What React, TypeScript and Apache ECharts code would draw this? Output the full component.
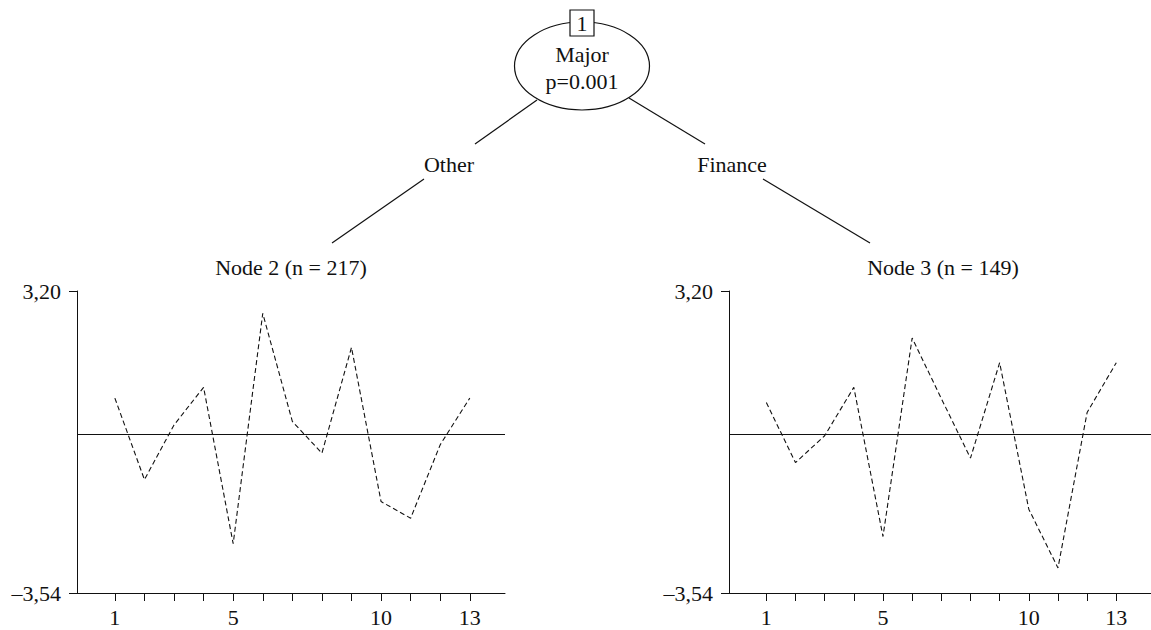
import React, { useEffect, useRef } from "react";
import * as echarts from "echarts";

const xValues = [1, 2, 3, 4, 5, 6, 7, 8, 9, 10, 11, 12, 13];
const node2Values = [0.81, -1.01, 0.21, 1.05, -2.44, 2.7, 0.29, -0.42, 1.94, -1.5, -1.87, -0.23, 0.81];
const node3Values = [0.71, -0.63, -0.03, 1.05, -2.28, 2.15, 0.8, -0.53, 1.6, -1.67, -2.98, 0.49, 1.6];
const xTickValues = [1, 2, 3, 4, 5, 6, 7, 8, 9, 10, 11, 12, 13];
const xLabelValues = [1, 5, 10, 13];
const yTickValues = [-3.54, 3.2];
const yTickLabels = ["\u20133,54", "3,20"];
const yMin = -3.54;
const yMax = 3.2;
const referenceValue = 0;
const rootTitle = "Major";
const rootPValue = "p=0.001";
const rootId = "1";
const branchLabels = ["Other", "Finance"];
const nodeTitles = ["Node 2 (n = 217)", "Node 3 (n = 149)"];

const FONT = '"Liberation Serif", "DejaVu Serif", serif';
const INK = "#111";
const FS = 22;

function textEl(text: string, x: number, y: number, size = FS) {
  return {
    type: "text",
    x,
    y,
    style: {
      text,
      fill: INK,
      fontSize: size,
      fontFamily: FONT,
      align: "center",
      verticalAlign: "middle",
      textAlign: "center",
      textVerticalAlign: "middle",
    },
    z: 10,
  };
}

function lineEl(x1: number, y1: number, x2: number, y2: number) {
  return {
    type: "line",
    shape: { x1, y1, x2, y2 },
    style: { stroke: INK, lineWidth: 1.2 },
    z: 5,
  };
}

export default function App() {
  const ref = useRef<HTMLDivElement>(null);

  useEffect(() => {
    if (!ref.current) return;
    const chart = echarts.init(ref.current, null, { renderer: "svg" });

    const makeX = (gridIndex: number) => ({
      type: "value",
      gridIndex,
      min: -0.28,
      max: 14.19,
      axisLine: { show: true, onZero: false, lineStyle: { color: INK, width: 1 } },
      axisTick: { show: true, length: 8, customValues: xTickValues, lineStyle: { color: INK } },
      axisLabel: {
        customValues: xLabelValues,
        margin: 13,
        color: INK,
        fontSize: FS,
        fontFamily: FONT,
      },
      splitLine: { show: false },
    });

    const makeY = (gridIndex: number) => ({
      type: "value",
      gridIndex,
      min: yMin,
      max: yMax,
      axisLine: { show: true, onZero: false, lineStyle: { color: INK, width: 1 } },
      axisTick: { show: true, length: 8, customValues: yTickValues, lineStyle: { color: INK } },
      axisLabel: {
        customValues: yTickValues,
        margin: 16,
        color: INK,
        fontSize: FS,
        fontFamily: FONT,
        formatter: (v: number) => {
          const i = yTickValues.findIndex((t) => Math.abs(t - v) < 1e-6);
          return i >= 0 ? yTickLabels[i] : "";
        },
      },
      splitLine: { show: false },
    });

    const makeSeries = (idx: number, values: number[]) => ({
      type: "line",
      xAxisIndex: idx,
      yAxisIndex: idx,
      data: xValues.map((x, i) => [x, values[i]]),
      symbol: "none",
      lineStyle: { color: INK, width: 1.1, type: [5, 3] },
      silent: true,
      markLine: {
        silent: true,
        symbol: "none",
        label: { show: false },
        lineStyle: { color: INK, width: 1, type: "solid" },
        data: [{ yAxis: referenceValue }],
      },
    });

    chart.setOption({
      animation: false,
      backgroundColor: "#fff",
      grid: [
        { left: 77, top: 291, width: 428, height: 302 },
        { left: 729, top: 291, width: 428, height: 302 },
      ],
      xAxis: [makeX(0), makeX(1)],
      yAxis: [makeY(0), makeY(1)],
      series: [makeSeries(0, node2Values), makeSeries(1, node3Values)],
      graphic: [
        lineEl(537, 100, 475, 144),
        lineEl(629, 98, 705, 144),
        lineEl(424, 179, 332, 243),
        lineEl(763, 179, 870, 243),
        {
          type: "ellipse",
          shape: { cx: 582, cy: 66, rx: 67.5, ry: 44 },
          style: { fill: "#fff", stroke: INK, lineWidth: 1.2 },
          z: 6,
        },
        {
          type: "rect",
          shape: { x: 570, y: 10, width: 24, height: 26 },
          style: { fill: "#fff", stroke: INK, lineWidth: 1.2 },
          z: 7,
        },
        textEl(rootId, 582, 23),
        textEl(rootTitle, 582, 54),
        textEl(rootPValue, 582, 81),
        textEl(branchLabels[0], 449, 164),
        textEl(branchLabels[1], 732, 164),
        textEl(nodeTitles[0], 291, 267),
        textEl(nodeTitles[1], 943, 267),
      ],
    });

    return () => chart.dispose();
  }, []);

  return (
    <div
      ref={ref}
      style={{ position: "fixed", left: 0, top: 0, width: 1151, height: 630, background: "#fff" }}
    />
  );
}
